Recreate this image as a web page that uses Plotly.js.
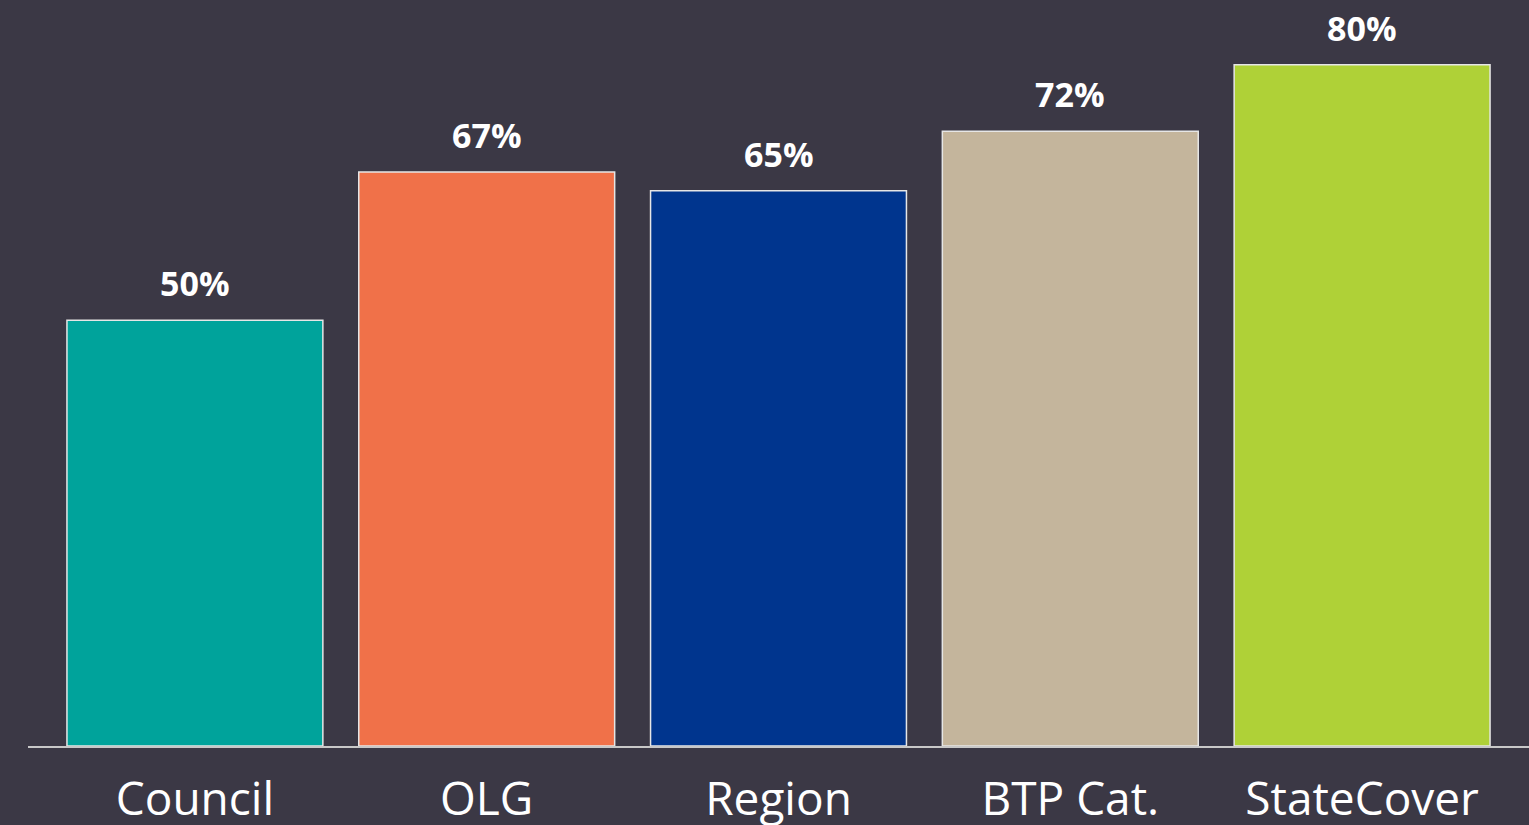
<!DOCTYPE html>
<html>
<head>
<meta charset="utf-8">
<script src="https://cdn.plot.ly/plotly-3.0.1.min.js"></script>
<style>
html,body{margin:0;padding:0;background:#3b3845;}
#chart{width:1529px;height:825px;}
</style>
</head>
<body>
<div id="chart"></div>
<script>
const categories = ["Council", "OLG", "Region", "BTP Cat.", "StateCover"];
const values = [50, 67.4, 65.2, 72.2, 80];
const labels = ["50%", "67%", "65%", "72%", "80%"];
const colors = ["#00a39b", "#f07149", "#00358e", "#c4b59c", "#afd137"];

const trace = {
  type: "bar",
  x: categories,
  y: values,
  marker: {color: colors, line: {color: "#e6e6e6", width: 1.5}},
  hoverinfo: "skip"
};

const annotations = categories.map((c, i) => ({
  x: c, y: values[i], text: labels[i], showarrow: false,
  yanchor: "bottom", yshift: 12,
  font: {family: "Open Sans", size: 34, color: "#ffffff", weight: "bold"}
}));

const layout = {
  width: 1529, height: 825,
  paper_bgcolor: "#3b3845", plot_bgcolor: "#3b3845",
  margin: {l: 28, r: 0, t: 0, b: 79},
  bargap: 0.123,
  showlegend: false,
  xaxis: {
    type: "category",
    range: [-0.572, 4.572],
    showline: true, linecolor: "#c8c8c8", linewidth: 2,
    ticks: "", showgrid: false, zeroline: false,
    ticklabelstandoff: 12,
    tickfont: {family: "Open Sans", size: 46, color: "#ffffff"}
  },
  yaxis: {
    range: [0, 87.6],
    showticklabels: false, showgrid: false, zeroline: false, showline: false, ticks: ""
  },
  annotations: annotations
};

Plotly.newPlot("chart", [trace], layout, {displayModeBar: false, staticPlot: true});
</script>
</body>
</html>
